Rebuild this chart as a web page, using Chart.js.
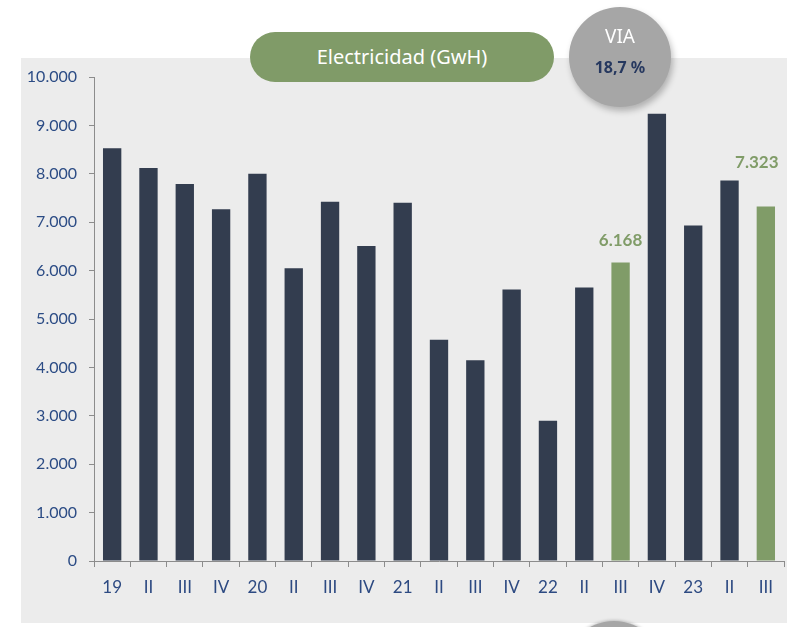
<!DOCTYPE html>
<html>
<head>
<meta charset="utf-8">
<script src="https://cdn.jsdelivr.net/npm/chart.js@4/dist/chart.umd.min.js"></script>
<style>
  html, body { margin: 0; padding: 0; background: #fff; }
  #wrap { position: relative; width: 797px; height: 627px; overflow: hidden; }
  #panel { position: absolute; left: 21px; top: 58px; width: 766px; height: 565px; background: #ececec; }
  #chartBox { position: absolute; left: 0; top: 0; width: 797px; height: 627px; }
  .pill {
    position: absolute; left: 250px; top: 32px; width: 304px; height: 50px;
    border-radius: 25px; background: #809b68; color: #fff;
    font: 20px "Noto Sans", sans-serif; line-height: 50px; text-align: center;
  }
  .bubble {
    position: absolute; left: 569px; top: 7px; width: 102px; height: 100px;
    border-radius: 50%; background: #a6a6a6; text-align: center;
    box-shadow: 2px 4px 6px rgba(0,0,0,0.25);
  }
  .bubble .t1 { position: absolute; left: 0; right: 0; top: 16px; color: #fff; font: 19px "Noto Sans", sans-serif; }
  .bubble .t2 { position: absolute; left: 0; right: 0; top: 49px; color: #26385f; font: bold 16px "Noto Sans", sans-serif; }
  .bubble2 {
    position: absolute; left: 564px; top: 621px; width: 100px; height: 100px;
    border-radius: 50%; background: #a6a6a6; box-shadow: 0 -1px 3px rgba(0,0,0,0.2);
  }
</style>
</head>
<body>
<div id="wrap">
  <div id="panel"></div>
  <div id="chartBox"><canvas id="elecChart" width="797" height="627"></canvas></div>
  <div class="pill">Electricidad (GwH)</div>
  <div class="bubble"><div class="t1">VIA</div><div class="t2">18,7 %</div></div>
  <div class="bubble2"></div>
</div>
<script>
const categories = ['19', 'II', 'III', 'IV', '20', 'II', 'III', 'IV', '21', 'II', 'III', 'IV', '22', 'II', 'III', 'IV', '23', 'II', 'III'];
const electricidad = [8530, 8120, 7790, 7270, 8000, 6050, 7420, 6510, 7400, 4570, 4150, 5610, 2900, 5650, 6168, 9240, 6930, 7860, 7323];
const highlighted = [14, 18];
const yTicks = [0, 1000, 2000, 3000, 4000, 5000, 6000, 7000, 8000, 9000, 10000];

const navy = '#333d4f';
const green = '#809c68';
const barColors = electricidad.map((v, i) => highlighted.includes(i) ? green : navy);

function fmt(v) {
  return String(v).replace(/\B(?=(\d{3})+(?!\d))/g, '.');
}

// labels over the highlighted bars
const valueLabels = {
  id: 'valueLabels',
  afterDatasetsDraw(chart) {
    const ctx = chart.ctx;
    const meta = chart.getDatasetMeta(0);
    const shift = { 14: [0, 22], 18: [-9, 44] };
    ctx.save();
    ctx.font = 'bold 17px Lato, sans-serif';
    ctx.fillStyle = green;
    ctx.textAlign = 'center';
    ctx.textBaseline = 'middle';
    highlighted.forEach(i => {
      const bar = meta.data[i];
      const s = shift[i];
      ctx.fillText(fmt(electricidad[i]), bar.x + s[0], bar.y - s[1]);
    });
    ctx.restore();
  }
};

const ctxElec = document.getElementById('elecChart').getContext('2d');
new Chart(ctxElec, {
  type: 'bar',
  data: {
    labels: categories,
    datasets: [{
      data: electricidad,
      backgroundColor: barColors,
      borderWidth: 0,
      categoryPercentage: 1,
      barPercentage: 0.505
    }]
  },
  options: {
    responsive: false,
    animation: false,
    layout: { padding: { top: 77, right: 13, left: 0, bottom: 0 } },
    plugins: { legend: { display: false }, tooltip: { enabled: false } },
    scales: {
      x: {
        afterFit(scale) { scale.height = 66; },
        grid: { offset: true, drawOnChartArea: false, tickLength: 6, color: '#8c8c8c' },
        border: { color: '#8c8c8c' },
        ticks: { color: '#2d4a82', font: { family: 'Lato', size: 17 }, padding: 10, maxRotation: 0, autoSkip: false }
      },
      y: {
        min: 0,
        max: 10000,
        afterFit(scale) { scale.width = 94; },
        afterBuildTicks(scale) { scale.ticks = yTicks.map(v => ({ value: v })); },
        grid: { drawOnChartArea: false, tickLength: 5, color: '#8c8c8c' },
        border: { color: '#8c8c8c' },
        ticks: { color: '#2c4c85', font: { family: 'Lato', size: 16 }, padding: 12, callback: v => fmt(v) }
      }
    }
  },
  plugins: [valueLabels]
});
</script>
</body>
</html>
